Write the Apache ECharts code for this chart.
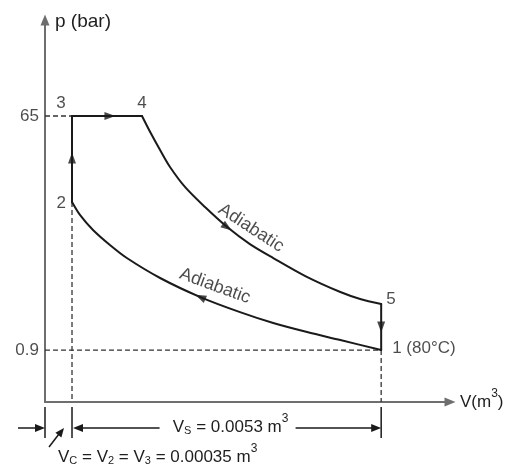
<!DOCTYPE html>
<html><head><meta charset="utf-8">
<script src="https://cdn.jsdelivr.net/npm/echarts@6/dist/echarts.min.js"></script>
<style>html,body{margin:0;padding:0;background:#fff}#c{width:511px;height:464px}</style>
</head><body><div id="c"></div>
<script>
// ---------- data ----------
const volAxisRange = [-0.000113, 0.00683];   // V axis extent, m^3
const pAxisRange = [0.348, 376];             // p axis extent, bar (log scale)
const yTickValues = [65, 0.9];
const yTickLabels = ['65', '0.9'];
const volC = 0.00035;                        // clearance volume
const volS = 0.0053;                         // swept volume
const pointNames = ['1 (80°C)', '2', '3', '4', '5'];
const pointVol = [0.00565, 0.00035, 0.00035, 0.00155, 0.00565];
const pointP = [0.9, 13.5, 65, 65, 2.09];
// adiabatic expansion 4 -> 5
const expVol = [0.00155, 0.00169, 0.00186, 0.00203, 0.00229, 0.00263, 0.00301, 0.0034, 0.0038, 0.00435, 0.00495, 0.00529, 0.00565];
const expP = [65, 48.5, 34.9, 25.6, 17.7, 12.3, 8.53, 6.25, 4.84, 3.48, 2.6, 2.29, 2.09];
// adiabatic compression 1 -> 2
const compVol = [0.00565, 0.00495, 0.00438, 0.0038, 0.00323, 0.00255, 0.00186, 0.00129, 0.001, 0.00071, 0.00049, 0.00035];
const compP = [0.9, 1.08, 1.25, 1.475, 1.8, 2.37, 3.36, 4.84, 6.14, 8.08, 10.6, 13.5];
// direction arrows on the cycle
const arrowVol = [0.00035, 0.001, 0.00301, 0.00565, 0.00255];
const arrowP = [30.2, 65, 8.5, 1.37, 2.37];
const arrowAngle = [0, -90, -125, 180, 66];
// "Adiabatic" annotations
const noteText = ['Adiabatic', 'Adiabatic'];
const noteVol = [0.00342, 0.0028];
const noteP = [8.38, 2.9];
const noteAngle = [-33, -20];
const volSLabel = 'V{sub|S} = 0.0053 m{sup|3}';
const volCLabel = 'V{sub|C} = V{sub|2} = V{sub|3} = 0.00035 m{sup|3}';

// ---------- chart ----------
const FONT = '"Liberation Sans", Arial, Helvetica, sans-serif';
const INK = '#1a1a1a';
const AXIS = '#6e6e6e';
const TXT = '#1e1e1e';
const FS = 17;
const richSS = {
  sub: {fontSize: 11, lineHeight: 11, verticalAlign: 'top', padding: [13, 0, 0, 0], fontFamily: FONT, color: TXT},
  sup: {fontSize: 12, lineHeight: 12, verticalAlign: 'top', padding: [0, 0, 0, 0], fontFamily: FONT, color: TXT}
};
const richG = {
  sub: {fontSize: 11, lineHeight: 11, verticalAlign: 'top', padding: [13, 0, 0, 0], fontFamily: FONT, fill: TXT},
  sup: {fontSize: 12, lineHeight: 12, verticalAlign: 'top', padding: [0, 0, 0, 0], fontFamily: FONT, fill: TXT}
};

const chart = echarts.init(document.getElementById('c'), null, {renderer: 'canvas'});

function seg(name, vols, ps, extra) {
  return Object.assign({
    type: 'line', name: name, data: vols.map((v, i) => [v, ps[i]]),
    symbol: 'none', silent: true, z: 3,
    lineStyle: {color: INK, width: 2, cap: 'round', join: 'miter'}
  }, extra || {});
}
const dashStyle = {lineStyle: {color: '#333', width: 1.3, type: [5, 3]}, z: 2};
const vMin = volAxisRange[0], pMin = pAxisRange[0];

const labelPos = [
  {position: 'right', distance: 11, offset: [0, -2]},
  {position: 'left', distance: 6, offset: [0, 1]},
  {position: 'inside', offset: [-11, -13]},
  {position: 'top', distance: 4},
  {position: 'right', distance: 5, offset: [0, -5]}
];

const option = {
  animation: false,
  backgroundColor: '#fff',
  grid: {left: 45, right: 61, top: 20, bottom: 62, outerBoundsMode: 'none'},
  xAxis: {
    type: 'value', min: volAxisRange[0], max: volAxisRange[1],
    axisLine: {onZero: false, lineStyle: {color: AXIS, width: 2}, symbol: ['none', 'triangle'], symbolSize: [9, 11]},
    axisTick: {show: false}, axisLabel: {show: false}, splitLine: {show: false},
    name: 'V(m{sup|3})', nameLocation: 'end', nameGap: 10,
    nameTextStyle: {fontSize: FS, fontFamily: FONT, color: TXT, lineHeight: 29, rich: richSS}
  },
  yAxis: {
    type: 'log', logBase: 10, min: pAxisRange[0], max: pAxisRange[1],
    axisLine: {onZero: false, lineStyle: {color: AXIS, width: 2}, symbol: ['none', 'triangle'], symbolSize: [9, 11]},
    axisTick: {show: false}, axisLabel: {show: false}, splitLine: {show: false}, minorSplitLine: {show: false},
    name: 'p (bar)', nameLocation: 'end', nameGap: -2,
    nameTextStyle: {fontSize: 19, fontFamily: FONT, color: TXT, align: 'left', verticalAlign: 'middle', padding: [0, 0, 0, 10]}
  },
  series: [
    seg('dash65', [vMin, pointVol[2]], [yTickValues[0], yTickValues[0]], dashStyle),
    seg('dash09', [vMin, pointVol[0]], [yTickValues[1], yTickValues[1]], dashStyle),
    seg('dashV2', [pointVol[1], pointVol[1]], [pointP[1], pMin], dashStyle),
    seg('dashV1', [pointVol[0], pointVol[0]], [pointP[0], pMin], dashStyle),
    seg('2-3-4', [pointVol[1], pointVol[2], pointVol[3]], [pointP[1], pointP[2], pointP[3]]),
    seg('4-5', expVol, expP, {smooth: 0.3}),
    seg('5-1', [pointVol[4], pointVol[0]], [pointP[4], pointP[0]]),
    seg('1-2', compVol, compP, {smooth: 0.3}),
    {
      type: 'scatter', name: 'arrows', silent: true, z: 4, symbol: 'triangle', symbolSize: [8, 11],
      itemStyle: {color: INK},
      data: arrowVol.map((v, i) => ({value: [v, arrowP[i]], symbolRotate: arrowAngle[i]}))
    },
    {
      type: 'scatter', name: 'points', silent: true, z: 5, symbolSize: 0,
      label: {show: true, fontSize: FS, fontFamily: FONT, color: TXT, formatter: p => p.name},
      data: pointVol.map((v, i) => ({name: pointNames[i], value: [v, pointP[i]], label: labelPos[i]}))
    },
    {
      type: 'scatter', name: 'yticks', silent: true, z: 5, symbolSize: 0,
      label: {show: true, position: 'left', distance: 6, fontSize: FS, fontFamily: FONT, color: TXT, formatter: p => p.name},
      data: yTickValues.map((p, i) => ({name: yTickLabels[i], value: [vMin, p]}))
    },
    {
      type: 'scatter', name: 'notes', silent: true, z: 5, symbolSize: 0,
      label: {show: true, position: 'inside', fontSize: 18, fontFamily: FONT, color: TXT, formatter: p => p.name},
      data: noteVol.map((v, i) => ({name: noteText[i], value: [v, noteP[i]], label: {rotate: noteAngle[i]}}))
    }
  ]
};
chart.setOption(option);

// ---------- dimension annotations below the V axis ----------
const px = v => chart.convertToPixel({xAxisIndex: 0}, v);
const axisY = chart.convertToPixel({yAxisIndex: 0}, pMin);
const xO = px(vMin), xC = px(volC), x1 = px(volC + volS);
const dimY = axisY + 26, tTop = axisY + 5, tBot = axisY + 36;
const mid = (xC + x1) / 2;
const lineEl = (a, b, c, d) => ({type: 'line', shape: {x1: a, y1: b, x2: c, y2: d}, style: {stroke: INK, lineWidth: 1.5}, silent: true});
const headEl = pts => ({type: 'polygon', shape: {points: pts}, style: {fill: INK}, silent: true});
chart.setOption({
  graphic: [
    lineEl(xO, tTop, xO, tBot),
    lineEl(xC, tTop, xC, tBot),
    lineEl(x1, tTop, x1, tBot),
    lineEl(xO - 27, dimY, xO - 9, dimY),
    headEl([[xO, dimY], [xO - 10, dimY - 4], [xO - 10, dimY + 4]]),
    headEl([[xC + 1, dimY], [xC + 11, dimY - 4], [xC + 11, dimY + 4]]),
    lineEl(xC + 10, dimY, mid - 67, dimY),
    lineEl(mid + 69, dimY, x1 - 9, dimY),
    headEl([[x1, dimY], [x1 - 10, dimY - 4], [x1 - 10, dimY + 4]]),
    lineEl(xO + 4, dimY + 19, xO + 14, dimY + 6),
    headEl([[xO + 19, dimY], [xO + 16.4, dimY + 9.5], [xO + 10.4, dimY + 4.7]]),
    {type: 'text', x: mid + 4, y: dimY - 1, silent: true,
     style: {text: volSLabel, fontSize: FS, fontFamily: FONT, fill: TXT, align: 'center', verticalAlign: 'middle', lineHeight: 29, rich: richG}},
    {type: 'text', x: xO + 13, y: dimY + 29, silent: true,
     style: {text: volCLabel, fontSize: FS, fontFamily: FONT, fill: TXT, align: 'left', verticalAlign: 'middle', lineHeight: 29, rich: richG}}
  ]
});
</script>
</body></html>
